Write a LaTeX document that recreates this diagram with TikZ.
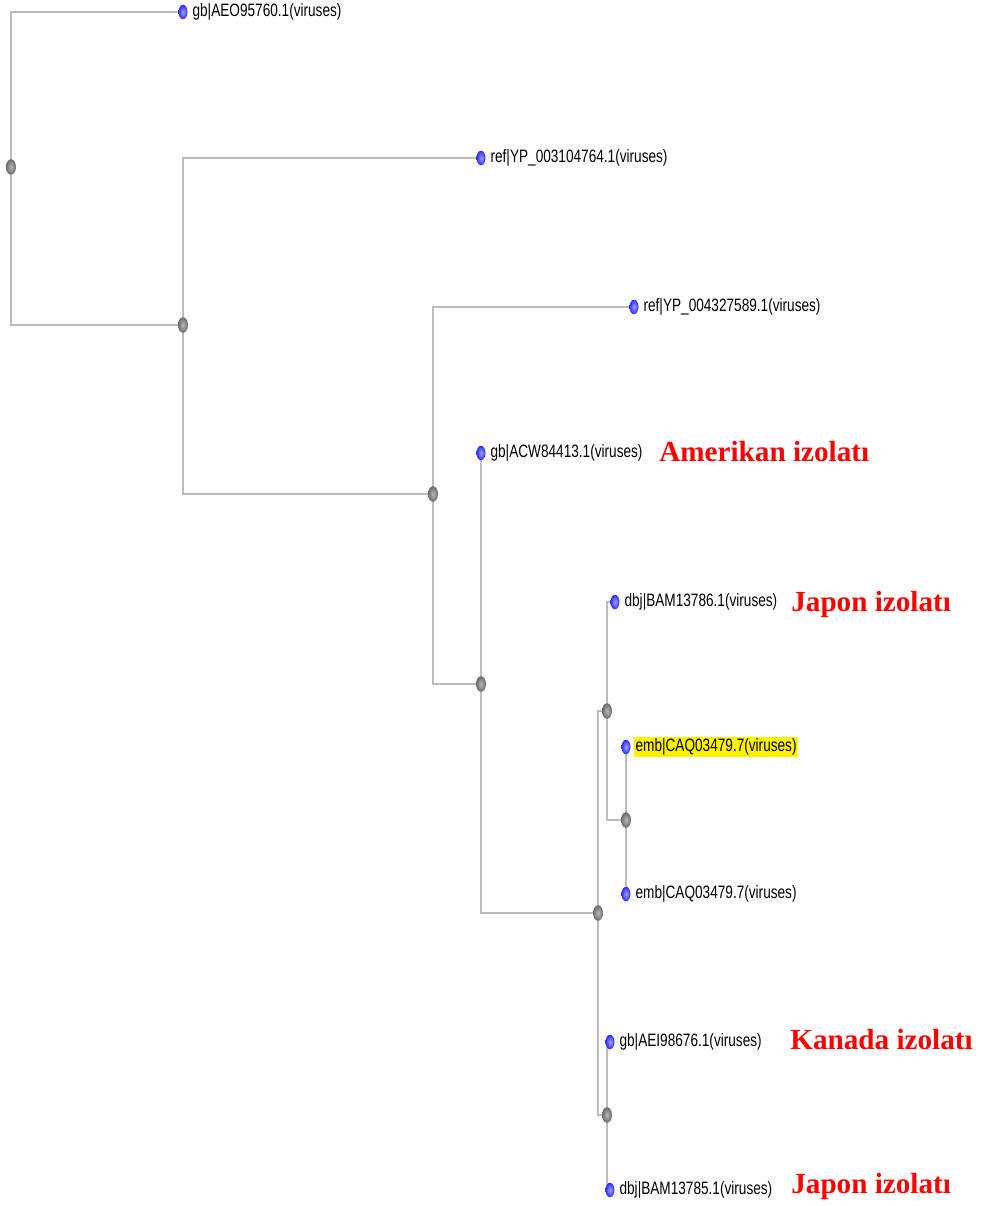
\documentclass[tikz,border=0pt]{standalone}
\usepackage{fontspec}
\usepackage{xcolor}
\usepackage{tikz}
\usetikzlibrary{
  positioning,
  shapes.geometric,
  backgrounds}
\newfontfamily\seqfont[FakeStretch=0.76]{Liberation Sans}
\newfontfamily\notefont{Liberation Serif}
\definecolor{branchgray}{RGB}{188,188,188}
\definecolor{leafblue}{RGB}{45,45,255}
\definecolor{leaflight}{RGB}{160,160,255}
\tikzset{branch/.style={draw=branchgray, line width=1.1pt},
         innernode/.style={ellipse, minimum width=0.2cm, minimum height=0.31cm, inner sep=0pt,
                           shading=radial, inner color=black!28, outer color=black!58},
         leafnode/.style={ellipse, minimum width=0.18cm, minimum height=0.29cm, inner sep=0pt,
                          shading=radial, inner color=leaflight, outer color=leafblue},
         seqname/.style={right=1.5pt of #1, inner sep=1pt, font=\seqfont\fontsize{10.2}{12}\selectfont},
         isolate/.style={anchor=base west, inner sep=0pt, text=red, font=\notefont\bfseries\fontsize{16.6}{18}\selectfont}
        }

\begin{document}
\begin{tikzpicture}[x=0.02cm, y=-0.02cm]
\useasboundingbox (0,0) rectangle (985,1206);

%inner nodes
\node[innernode] (n1) at (11,167) {};
\node[innernode] (n2) at (183,325) {};
\node[innernode] (n3) at (433,494) {};
\node[innernode] (n4) at (481,684) {};
\node[innernode] (n5) at (598,913) {};
\node[innernode] (n6) at (607,711) {};
\node[innernode] (n7) at (626,820) {};
\node[innernode] (n8) at (607,1115) {};

%leaves
\node[leafnode] (l1) at (183,12) {};
\node[leafnode] (l2) at (481,158) {};
\node[leafnode] (l3) at (634,307) {};
\node[leafnode] (l4) at (481,453) {};
\node[leafnode] (l5) at (615,602) {};
\node[leafnode] (l6) at (626,747) {};
\node[leafnode] (l7) at (626,894) {};
\node[leafnode] (l8) at (610,1042) {};
\node[leafnode] (l9) at (610,1190) {};

\node[seqname=l1] (t1) {gb|AEO95760.1(viruses)};
\node[seqname=l2] (t2) {ref|YP\_003104764.1(viruses)};
\node[seqname=l3] (t3) {ref|YP\_004327589.1(viruses)};
\node[seqname=l4] (t4) {gb|ACW84413.1(viruses)};
\node[seqname=l5] (t5) {dbj|BAM13786.1(viruses)};
\node[seqname=l6, fill=yellow] (t6) {emb|CAQ03479.7(viruses)};
\node[seqname=l7] (t7) {emb|CAQ03479.7(viruses)};
\node[seqname=l8] (t8) {gb|AEI98676.1(viruses)};
\node[seqname=l9] (t9) {dbj|BAM13785.1(viruses)};

%branches
\begin{scope}[on background layer]
\draw[branch] (n1.center) |- (l1.center);
\draw[branch] (n1.center) |- (n2.center);
\draw[branch] (n2.center) |- (l2.center);
\draw[branch] (n2.center) |- (n3.center);
\draw[branch] (n3.center) |- (l3.center);
\draw[branch] (n3.center) |- (n4.center);
\draw[branch] (n4.center) |- (l4.center);
\draw[branch] (n4.center) |- (n5.center);
\draw[branch] (n5.center) |- (n6.center);
\draw[branch] (n5.center) |- (n8.center);
\draw[branch] (n6.center) |- (l5.center);
\draw[branch] (n6.center) |- (n7.center);
\draw[branch] (n7.center) |- (l6.center);
\draw[branch] (n7.center) |- (l7.center);
\draw[branch] (n8.center) |- (l8.center);
\draw[branch] (n8.center) |- (l9.center);
\end{scope}

\node[isolate] (iso1) at (659,461) {Amerikan izolatı};
\node[isolate] (iso2) at (791,611) {Japon izolatı};
\node[isolate] (iso3) at (790,1049) {Kanada izolatı};
\node[isolate] (iso4) at (791,1193) {Japon izolatı};

\end{tikzpicture}
\end{document}
